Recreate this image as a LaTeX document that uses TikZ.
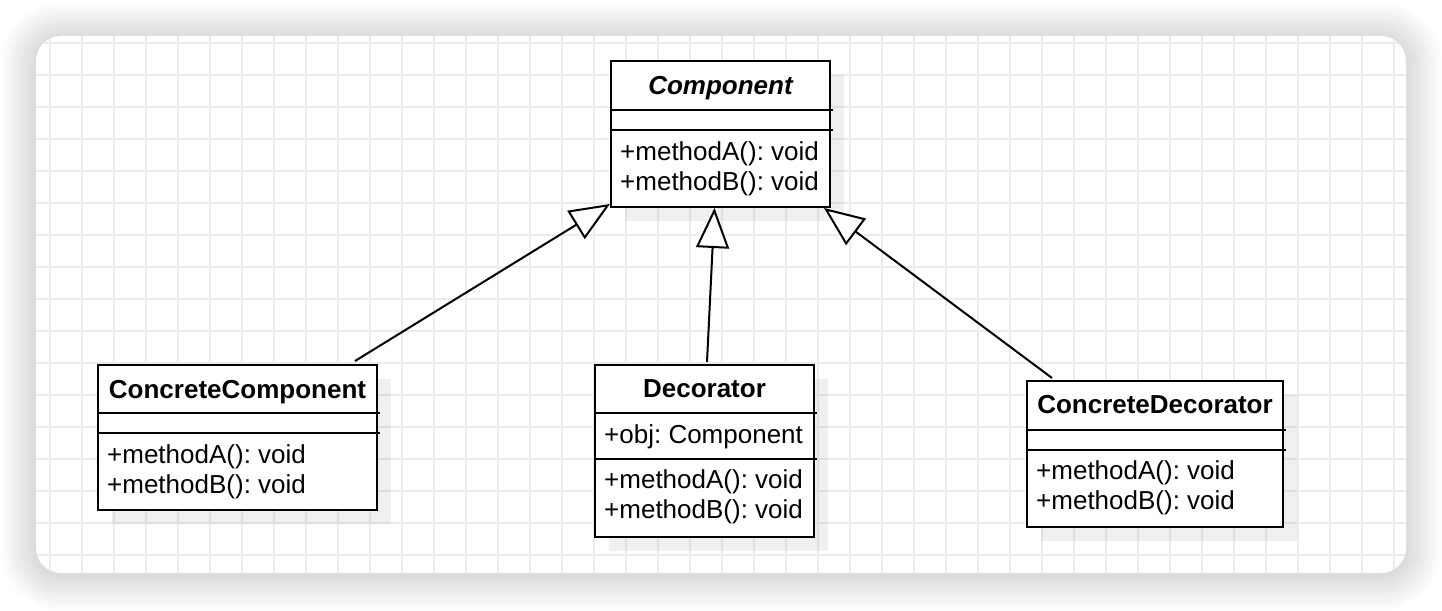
\documentclass[tikz,border=0pt]{standalone}
\usepackage{fontspec}
\setmainfont{Liberation Sans}
\usetikzlibrary{arrows.meta,calc,shadows}
\definecolor{gridc}{RGB}{236,236,236}
\frenchspacing
\begin{document}
\begin{tikzpicture}[x=1pt,y=-1pt,
  classbox/.style={draw=black, line width=2pt, fill=white, rectangle, inner sep=0pt, anchor=north west,
     general shadow={shadow xshift=14pt, shadow yshift=-14pt, fill=black, fill opacity=0.06}},
  divider/.style={line width=2pt},
  gridline/.style={gridc, line width=1.5pt},
  title/.style={font={\fontsize{26pt}{30pt}\selectfont\bfseries\frenchspacing}, anchor=base, inner sep=0pt},
  member/.style={font={\fontsize{26pt}{30pt}\selectfont\frenchspacing}, anchor=base west, inner sep=0pt},
  inherit/.style={line width=2pt, -{Triangle[length=40pt, width=33pt, fill=white]}},
]
\useasboundingbox (0,0) rectangle (1442,610);
\fill[white] (0,0) rectangle (1442,610);
% card shadow
\foreach \k in {1,...,36} {
  \pgfmathsetmacro\rr{25+\k}
  \fill[black, opacity=0.0045, rounded corners=\rr pt] (36-\k,38-\k) rectangle (1406+\k,575+\k);
}
\fill[white, rounded corners=25pt] (36,36) rectangle (1406,573);
\begin{scope}
  \clip[rounded corners=25pt] (36,36) rectangle (1406,573);
  \foreach \x in {50,82,...,1394} \draw[gridline] (\x,36) -- (\x,573);
  \foreach \y in {43,75,...,555} \draw[gridline] (36,\y) -- (1406,\y);
\end{scope}

% Component
\node[classbox, minimum width=219pt, minimum height=146pt] (comp) at (610,60) {};
\draw[divider] ($(comp.north west)+(0,50)$) -- ($(comp.north east)+(2,50)$);
\draw[divider] ($(comp.north west)+(0,70)$) -- ($(comp.north east)+(2,70)$);
\node[title, font={\fontsize{26pt}{30pt}\selectfont\bfseries\itshape}] (compt) at ($(comp.north)+(0,34)$) {Component};
\node[member] (compa) at ($(comp.north west)+(10,100)$) {+methodA(): void};
\node[member] (compb) at ($(comp.north west)+(10,130)$) {+methodB(): void};

% ConcreteComponent
\node[classbox, minimum width=279pt, minimum height=145pt] (cc) at (97,364) {};
\draw[divider] ($(cc.north west)+(0,49)$) -- ($(cc.north east)+(2,49)$);
\draw[divider] ($(cc.north west)+(0,69)$) -- ($(cc.north east)+(2,69)$);
\node[title] (cct) at ($(cc.north)+(0,34)$) {ConcreteComponent};
\node[member] (cca) at ($(cc.north west)+(10,99)$) {+methodA(): void};
\node[member] (ccb) at ($(cc.north west)+(10,129)$) {+methodB(): void};

% Decorator
\node[classbox, minimum width=219pt, minimum height=172pt] (dec) at (594,364) {};
\draw[divider] ($(dec.north west)+(0,49)$) -- ($(dec.north east)+(2,49)$);
\draw[divider] ($(dec.north west)+(0,95)$) -- ($(dec.north east)+(2,95)$);
\node[title] (dect) at ($(dec.north)+(0,33)$) {Decorator};
\node[member] (deco) at ($(dec.north west)+(10,79)$) {+obj: Component};
\node[member] (deca) at ($(dec.north west)+(10,124)$) {+methodA(): void};
\node[member] (decb) at ($(dec.north west)+(10,154)$) {+methodB(): void};

% ConcreteDecorator
\node[classbox, minimum width=256pt, minimum height=146pt] (cd) at (1026,380) {};
\draw[divider] ($(cd.north west)+(0,50)$) -- ($(cd.north east)+(2,50)$);
\draw[divider] ($(cd.north west)+(0,70)$) -- ($(cd.north east)+(2,70)$);
\node[title] (cdt) at ($(cd.north)+(0,33)$) {ConcreteDecorator};
\node[member] (cda) at ($(cd.north west)+(10,99)$) {+methodA(): void};
\node[member] (cdb) at ($(cd.north west)+(10,129)$) {+methodB(): void};

% generalisations
\draw[inherit] ($(cc.north)+(117.5,-3)$) -- ($(comp.south west)+(0,-4)$);
\draw[inherit] ($(dec.north)+(2.5,-2)$) -- ($(comp.south)+(-6,0)$);
\draw[inherit] ($(cd.north west)+(26,-2)$) -- ($(comp.south east)+(-7,0)$);
\end{tikzpicture}
\end{document}
